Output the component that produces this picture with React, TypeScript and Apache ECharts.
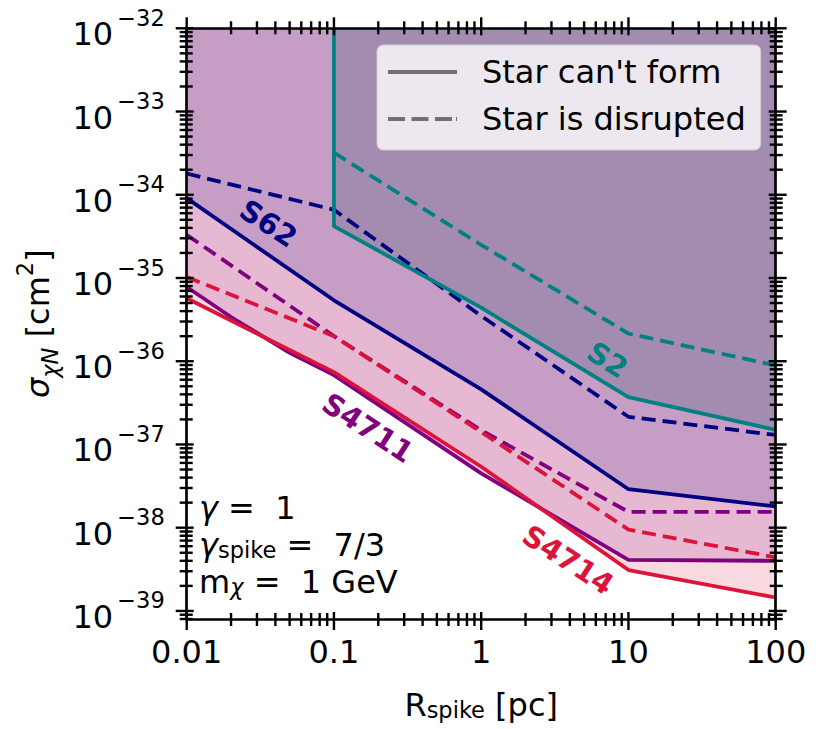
import React, { useEffect, useRef } from "react";
import * as echarts from "echarts";

// ---- axis ranges & ticks ----
const xRange = [0.01, 100];
const yRange = [8e-40, 1e-32];
const xTickValues = [0.01, 0.1, 1, 10, 100];
const xTickLabels = ["0.01", "0.1", "1", "10", "100"];
const yTickValues = [1e-39, 1e-38, 1e-37, 1e-36, 1e-35, 1e-34, 1e-33, 1e-32];

// ---- data (R_spike [pc] -> sigma [cm^2]) ----
const rGrid = [0.01, 0.1, 1, 10, 100];
const s62Form = [9.1e-35, 5.4e-36, 4.6e-37, 2.9e-38, 1.8e-38];
const s62Disrupt = [1.8e-34, 6.6e-35, 3.5e-36, 2.15e-37, 1.3e-37];
const s2FormR = [0.1, 0.1, 1, 10, 100];
const s2Form = [1e-32, 4.2e-35, 4.4e-36, 3.7e-37, 1.5e-37];
const s2DisruptR = [0.1, 1, 10, 100];
const s2Disrupt = [3.2e-34, 2.5e-35, 2.15e-36, 8.9e-37];
const s4711FormR = [0.01, 0.02, 0.05, 0.1, 1, 10, 100];
const s4711Form = [7.8e-36, 3.4e-36, 1.26e-36, 6.8e-37, 4.5e-38, 4.1e-39, 4.0e-39];
const s4711Disrupt = [3.3e-35, 2.0e-36, 1.48e-37, 1.55e-38, 1.55e-38];
const s4714Form = [5.7e-36, 7.4e-37, 5.4e-38, 3.1e-39, 1.45e-39];
const s4714Disrupt = [1.03e-35, 2.0e-36, 1.41e-37, 9.5e-39, 4.4e-39];

// ---- star name annotations (in data coordinates) ----
const starNames = ["S62", "S2", "S4711", "S4714"];
const starLabelR = [0.0359, 7.21, 0.17, 3.89];
const starLabelSigma = [4.52e-35, 1.035e-36, 1.58e-37, 4.09e-39];
const starLabelAngle = [-33, -32, -33, -33];

const legendNames = ["Star can't form", "Star is disrupted"];

// ---- styles ----
const FONT = "DejaVu Sans";
const C = {
  S62: "#000080",
  S2: "#008080",
  S4711: "#800080",
  S4714: "#dc143c",
};
const FILL = {
  S62: "rgba(0,0,128,0.14)",
  S2: "rgba(87,99,128,0.3)",
  S4711: "rgba(128,0,128,0.15)",
  S4714: "rgba(220,20,60,0.16)",
};
const LW = 3.8;
const DASH = [14, 7];

const L = (v: number) => Math.log10(v);
const pts = (xs: number[], ys: number[]) => xs.map((x, i) => [L(x), L(ys[i])]);

export default function App() {
  const ref = useRef<HTMLDivElement>(null);
  useEffect(() => {
    if (!ref.current) return;
    const chart = echarts.init(ref.current, null, { renderer: "svg" });
    const xMinL = L(xRange[0]);
    const xMaxL = L(xRange[1]);
    const yMinL = L(yRange[0]);
    const yMaxL = L(yRange[1]);

    // tick positions (major decades + minor 2..9)
    const tickData: number[][] = [];
    for (let n = Math.round(xMinL); n <= Math.round(xMaxL); n++) {
      tickData.push([n, yMinL, 0]);
      for (let k = 2; k <= 9; k++) {
        const v = n + Math.log10(k);
        if (v < xMaxL) tickData.push([v, yMinL, 1]);
      }
    }
    for (let n = Math.floor(yMinL); n <= Math.round(yMaxL); n++) {
      if (n >= yMinL) tickData.push([xMinL, n, 2]);
      for (let k = 2; k <= 9; k++) {
        const v = n + Math.log10(k);
        if (v >= yMinL - 1e-9 && v < yMaxL) tickData.push([xMinL, v, 3]);
      }
    }

    const area = (name: string, data: number[][], fill: string) => ({
      type: "line",
      name,
      data,
      symbol: "none",
      z: 1,
      lineStyle: { width: 0 },
      itemStyle: { color: fill },
      areaStyle: { origin: "end", color: fill, opacity: 1 },
      silent: true,
    });
    const line = (name: string, data: number[][], color: string, dashed: boolean) => ({
      type: "line",
      name,
      data,
      symbol: "none",
      z: 3,
      lineStyle: { width: LW, color, type: dashed ? DASH : "solid", cap: "butt" },
      itemStyle: { color },
      silent: true,
    });

    const s62F = pts(rGrid, s62Form);
    const s62D = pts(rGrid, s62Disrupt);
    const s2F = pts(s2FormR, s2Form);
    const s2D = pts(s2DisruptR, s2Disrupt);
    const s4711F = pts(s4711FormR, s4711Form);
    const s4711D = pts(rGrid, s4711Disrupt);
    const s4714F = pts(rGrid, s4714Form);
    const s4714D = pts(rGrid, s4714Disrupt);

    const starColorList = [C.S62, C.S2, C.S4711, C.S4714];

    const baseAxis = {
      type: "value",
      z: 10,
      axisTick: { show: false },
      splitLine: { show: false },
      axisLine: { show: true, onZero: false, lineStyle: { color: "#000", width: 2.7 } },
    };

    const option: any = {
      animation: false,
      textStyle: { fontFamily: FONT },
      grid: { left: 186.7, right: 55.3, top: 28.3, bottom: 110, containLabel: false },
      xAxis: [
        {
          ...baseAxis,
          position: "bottom",
          min: xMinL,
          max: xMaxL,
          axisLabel: {
            customValues: xTickValues.map(L),
            formatter: (v: number) =>
              xTickLabels[xTickValues.findIndex((t) => Math.abs(L(t) - v) < 1e-6)] ?? "",
            fontSize: 32,
            fontFamily: FONT,
            color: "#000",
            margin: 17,
          },
          name: "{n|R}{sub|spike}{n| [pc]}",
          nameLocation: "middle",
          nameGap: 70,
          nameTextStyle: {
            fontFamily: FONT,
            color: "#000",
            rich: {
              n: { fontSize: 32, lineHeight: 32, verticalAlign: "top", fontFamily: FONT, color: "#000" },
              sub: { fontSize: 22.5, lineHeight: 20, verticalAlign: "bottom", fontFamily: FONT, color: "#000" },
            },
          },
        },
        {
          ...baseAxis,
          position: "top",
          min: xMinL,
          max: xMaxL,
          axisLabel: { show: false },
        },
      ],
      yAxis: [
        {
          ...baseAxis,
          position: "left",
          min: yMinL,
          max: yMaxL,
          axisLabel: {
            customValues: yTickValues.map(L),
            formatter: (v: number) => `{b|10}{s|\u2212${-Math.round(v)}}`,
            margin: 22,
            color: "#000",
            rich: {
              b: { fontSize: 32, lineHeight: 44, verticalAlign: "bottom", fontFamily: FONT, color: "#000" },
              s: {
                fontSize: 22.5,
                lineHeight: 22,
                verticalAlign: "top",
                padding: [0, 0, 0, 4],
                fontFamily: FONT,
                color: "#000",
              },
            },
          },
          name: "{i|\u03c3}{si|\u03c7N}{n| [cm}{sup|2}{n|]}",
          nameLocation: "middle",
          nameRotate: 90,
          nameGap: 124,
          nameTextStyle: {
            fontFamily: FONT,
            color: "#000",
            rich: {
              i: { fontSize: 32, fontStyle: "italic", lineHeight: 48, verticalAlign: "middle", fontFamily: FONT, color: "#000" },
              si: { fontSize: 22.5, fontStyle: "italic", lineHeight: 36, verticalAlign: "bottom", fontFamily: FONT, color: "#000" },
              n: { fontSize: 32, lineHeight: 48, verticalAlign: "middle", fontFamily: FONT, color: "#000" },
              sup: { fontSize: 22.5, lineHeight: 22, verticalAlign: "top", fontFamily: FONT, color: "#000" },
            },
          },
        },
        {
          ...baseAxis,
          position: "right",
          min: yMinL,
          max: yMaxL,
          axisLabel: { show: false },
        },
      ],
      legend: {
        orient: "vertical",
        left: 377,
        top: 45,
        padding: [11, 15, 15, 11],
        itemGap: 15,
        itemWidth: 69,
        itemHeight: 4,
        selectedMode: false,
        backgroundColor: "rgba(255,255,255,0.8)",
        borderColor: "#cccccc",
        borderWidth: 1,
        borderRadius: 6,
        itemStyle: { borderWidth: 0 },
        textStyle: { fontSize: 32, fontFamily: FONT, color: "#000", padding: [0, 0, 0, 20] },
        data: [
          { name: legendNames[0], icon: "path://M0,0h69v4h-69z" },
          {
            name: legendNames[1],
            icon: "path://M0,0h17v4h-17zM23.5,0h17v4h-17zM47,0h17v4h-17zM68,0h1v4h-1z",
          },
        ],
      },
      graphic: [
        {
          type: "text",
          x: 199,
          y: 508,
          z: 30,
          style: {
            text: "{i|\u03b3}{n| =  1}",
            verticalAlign: "middle",
            align: "left",
            rich: {
              i: { fontSize: 32, fontStyle: "italic", fontFamily: FONT, lineHeight: 32, verticalAlign: "top", fill: "#000" },
              n: { fontSize: 32, fontFamily: FONT, lineHeight: 32, verticalAlign: "top", fill: "#000" },
            },
          },
        },
        {
          type: "text",
          x: 199,
          y: 545,
          z: 30,
          style: {
            text: "{i|\u03b3}{sub|spike}{n| =  7/3}",
            verticalAlign: "middle",
            align: "left",
            rich: {
              i: { fontSize: 32, fontStyle: "italic", fontFamily: FONT, lineHeight: 32, verticalAlign: "top", fill: "#000" },
              sub: { fontSize: 22.5, fontFamily: FONT, lineHeight: 20, verticalAlign: "bottom", fill: "#000" },
              n: { fontSize: 32, fontFamily: FONT, lineHeight: 32, verticalAlign: "top", fill: "#000" },
            },
          },
        },
        {
          type: "text",
          x: 199,
          y: 582,
          z: 30,
          style: {
            text: "{n|m}{sub|\u03c7}{n| =  1 GeV}",
            verticalAlign: "middle",
            align: "left",
            rich: {
              n: { fontSize: 32, fontFamily: FONT, lineHeight: 32, verticalAlign: "top", fill: "#000" },
              sub: { fontSize: 22.5, fontStyle: "italic", fontFamily: FONT, lineHeight: 14, verticalAlign: "bottom", fill: "#000" },
            },
          },
        },
      ],
      series: [
        area("S4714 area", s4714F, FILL.S4714),
        area("S4711 area", s4711F, FILL.S4711),
        area("S62 area", s62F, FILL.S62),
        area("S2 area", s2F, FILL.S2),
        line("S2 disrupted", s2D, C.S2, true),
        line("S62 disrupted", s62D, C.S62, true),
        line("S4711 disrupted", s4711D, C.S4711, true),
        line("S4714 disrupted", s4714D, C.S4714, true),
        line("S2 form", s2F, C.S2, false),
        line("S62 form", s62F, C.S62, false),
        line("S4711 form", s4711F, C.S4711, false),
        line("S4714 form", s4714F, C.S4714, false),
        {
          type: "line",
          name: legendNames[0],
          data: [],
          symbol: "none",
          itemStyle: { color: "#707070" },
          lineStyle: { color: "#707070", width: 4 },
        },
        {
          type: "line",
          name: legendNames[1],
          data: [],
          symbol: "none",
          itemStyle: { color: "#707070" },
          lineStyle: { color: "#707070", width: 4, type: "dashed" },
        },
        {
          type: "scatter",
          name: "star labels",
          z: 6,
          silent: true,
          symbolSize: 1,
          itemStyle: { color: "rgba(0,0,0,0)", opacity: 1 },
          data: starNames.map((nm, i) => ({
            name: nm,
            value: [L(starLabelR[i]), L(starLabelSigma[i])],
            label: {
              show: true,
              position: "inside",
              formatter: "{b}",
              rotate: starLabelAngle[i],
              color: starColorList[i],
              opacity: 1,
              fontSize: 29,
              fontWeight: "bold",
              fontFamily: FONT,
            },
          })),
        },
        {
          type: "custom",
          name: "ticks",
          z: 20,
          silent: true,
          clip: false,
          coordinateSystem: "cartesian2d",
          encode: { x: 0, y: 1 },
          data: tickData,
          renderItem: (params: any, api: any) => {
            const cs = params.coordSys;
            const kind = api.value(2);
            const p = api.coord([api.value(0), api.value(1)]);
            const major = kind === 0 || kind === 2;
            const out = major ? 11 : 7;
            const inn = major ? 7 : 6;
            const style = { stroke: "#000", lineWidth: 2.4 };
            if (kind < 2) {
              const x = p[0];
              const yb = cs.y + cs.height;
              const yt = cs.y;
              return {
                type: "group",
                children: [
                  { type: "line", shape: { x1: x, y1: yb - inn, x2: x, y2: yb + out }, style },
                  { type: "line", shape: { x1: x, y1: yt - out, x2: x, y2: yt + inn }, style },
                ],
              };
            }
            const y = p[1];
            const xl = cs.x;
            const xr = cs.x + cs.width;
            return {
              type: "group",
              children: [
                { type: "line", shape: { x1: xl - out, y1: y, x2: xl + inn, y2: y }, style },
                { type: "line", shape: { x1: xr - inn, y1: y, x2: xr + out, y2: y }, style },
              ],
            };
          },
        },
      ],
    };
    chart.setOption(option);
    return () => chart.dispose();
  }, []);
  return (
    <div
      ref={ref}
      style={{ position: "absolute", left: 0, top: 0, width: 831, height: 729, background: "#fff" }}
    />
  );
}
